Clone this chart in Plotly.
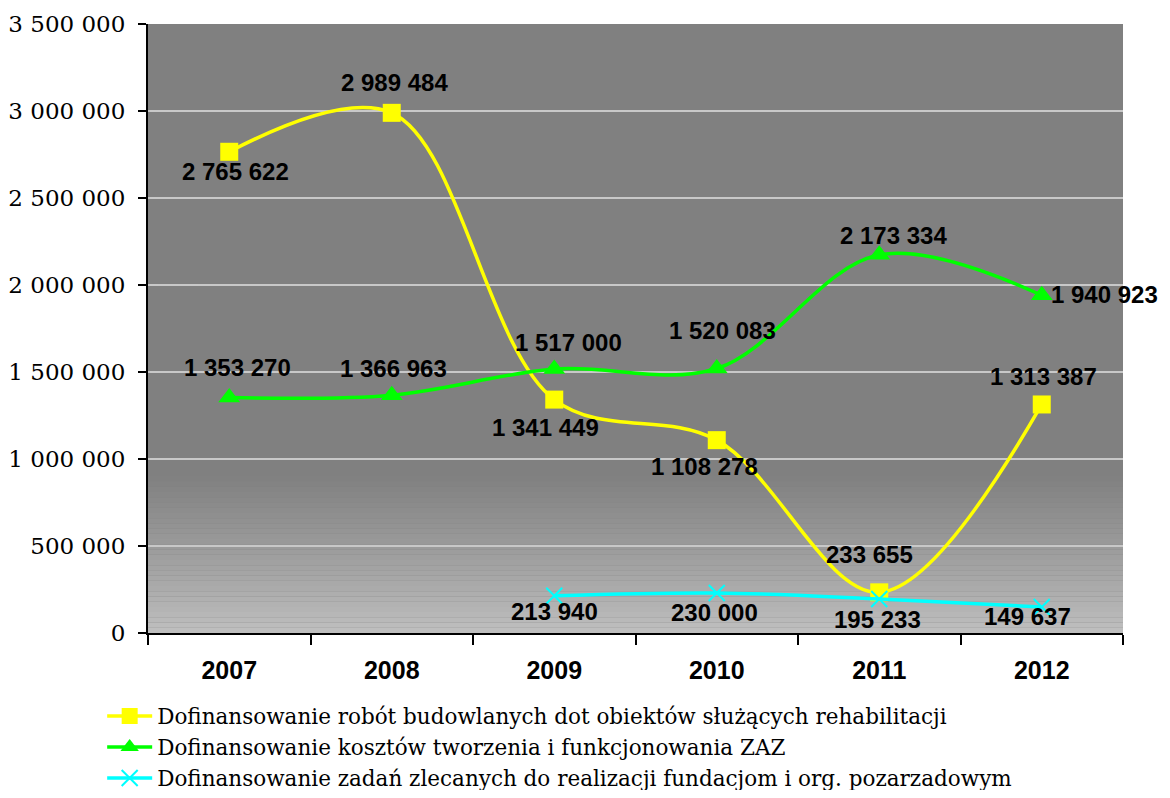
import plotly.graph_objects as go

years = ["2007", "2008", "2009", "2010", "2011", "2012"]
budowlane = [2765622, 2989484, 1341449, 1108278, 233655, 1313387]
zaz = [1353270, 1366963, 1517000, 1520083, 2173334, 1940923]
zlecone = [None, None, 213940, 230000, 195233, 149637]

names = [
    "Dofinansowanie robót budowlanych dot obiektów służących rehabilitacji",
    "Dofinansowanie kosztów tworzenia i funkcjonowania ZAZ",
    "Dofinansowanie zadań zlecanych do realizacji fundacjom i org. pozarzadowym",
]

yticks = [0, 500000, 1000000, 1500000, 2000000, 2500000, 3000000, 3500000]

# label offsets in pixels (dx right, dy down) relative to each point
off_budowlane = [(6, 20), (3, -30), (-9, 28), (-12, 26), (-10, -38), (2, -28)]
off_zaz = [(8, -30), (2, -27), (14, -27), (6, -38), (14, -19), (63, -1)]
off_zlecone = [None, None, (0, 16), (-2, 20), (-2, 20), (-14, 10)]

label_font = dict(family="Liberation Sans", size=24, color="black", weight="bold")

fig = go.Figure()

fig.add_trace(go.Scatter(
    x=years, y=budowlane, name=names[0], mode="lines+markers",
    line=dict(color="#ffff00", width=3.5, shape="spline", smoothing=1.0),
    marker=dict(symbol="square", size=18, color="#ffff00"),
))
fig.add_trace(go.Scatter(
    x=years, y=zaz, name=names[1], mode="lines+markers",
    line=dict(color="#00ff00", width=3.5, shape="spline", smoothing=1.0),
    marker=dict(symbol="triangle-up", size=19, color="#00ff00"),
))
fig.add_trace(go.Scatter(
    x=years, y=zlecone, name=names[2], mode="lines+markers",
    line=dict(color="#00ffff", width=3.5, shape="spline", smoothing=1.0),
    marker=dict(symbol="x-thin", size=16, line=dict(color="#00ffff", width=2), color="#00ffff"),
))


def fmt(v):
    return f"{v:,}".replace(",", " ")


for series, offs in ((budowlane, off_budowlane), (zaz, off_zaz), (zlecone, off_zlecone)):
    for i, (v, o) in enumerate(zip(series, offs)):
        if v is None:
            continue
        # category axis: position by the category's serial number
        fig.add_annotation(x=i, y=v, xref="x", yref="y", text=fmt(v), showarrow=False,
                           xshift=o[0], yshift=-o[1], font=label_font,
                           xanchor="center", yanchor="middle")

# background gradient near the bottom of the plot area
n = 30
top_val = 900000
for i in range(n):
    y0 = top_val * i / n
    y1 = top_val * (i + 1) / n
    t = (i + 0.5) / n
    c = int(round(0xc0 + (0x80 - 0xc0) * t ** 0.9))
    fig.add_shape(type="rect", xref="paper", yref="y", x0=0, x1=1, y0=y0, y1=y1,
                  fillcolor=f"rgb({c},{c},{c})", line=dict(width=0), layer="below")

fig.update_layout(
    width=1154, height=782,
    margin=dict(l=140, r=39, t=16, b=157, autoexpand=False),
    paper_bgcolor="white",
    plot_bgcolor="#808080",
    separators=", ",
    showlegend=True,
    legend=dict(
        x=-0.047, y=-0.1028, xanchor="left", yanchor="top",
        font=dict(family="DejaVu Serif", size=21.5, color="black"),
        tracegroupgap=0, itemwidth=45, bgcolor="rgba(0,0,0,0)",
    ),
    xaxis=dict(
        type="category", range=[-0.5, 5.5], tickson="boundaries", automargin=False,
        ticks="outside", ticklen=10, tickwidth=2, tickcolor="black",
        showline=True, linecolor="black", linewidth=2, showgrid=False,
        ticklabelstandoff=14,
        tickfont=dict(family="Liberation Sans", size=25, color="black", weight="bold"),
    ),
    yaxis=dict(
        range=[0, 3500000], tickvals=yticks, tickformat=",d", automargin=False,
        ticks="outside", ticklen=8, tickwidth=2, tickcolor="black",
        showline=True, linecolor="black", linewidth=2,
        showgrid=True, gridcolor="#c8c8c8", gridwidth=2, zeroline=False,
        ticklabelstandoff=8,
        tickfont=dict(family="DejaVu Serif", size=23, color="black"),
    ),
)

fig.write_html("out.html")
